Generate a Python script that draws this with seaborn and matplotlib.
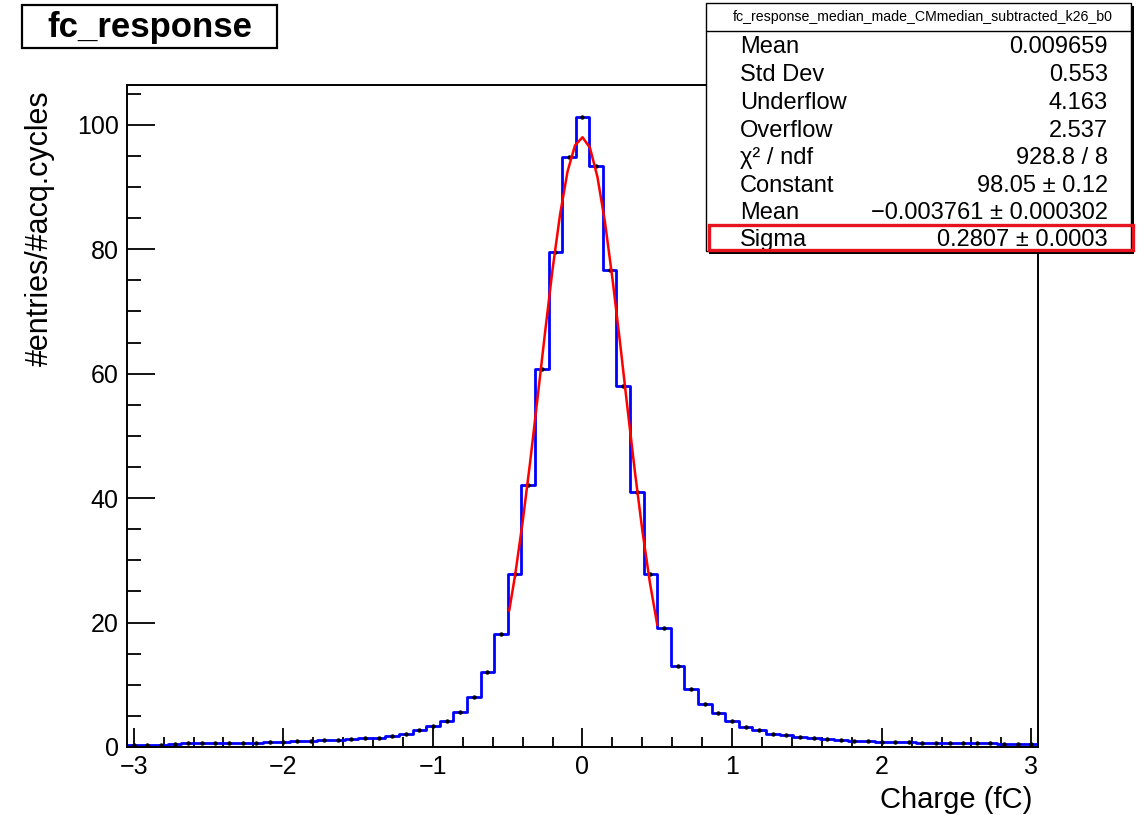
import numpy as np
import pandas as pd
import seaborn as sns
import matplotlib.pyplot as plt
from matplotlib.patches import Rectangle
from matplotlib.ticker import MultipleLocator

# --------------------------- DATA ---------------------------
# 67 bins of width 1/11 fC between -3.045 and 3.045
bin_edges = np.linspace(-3.045, 3.045, 68)
bin_centers = 0.5 * (bin_edges[:-1] + bin_edges[1:])

counts = [
    0.38, 0.38, 0.40, 0.45, 0.58, 0.60, 0.60, 0.70, 0.70, 0.72,
    0.74, 0.86, 0.95, 0.97, 1.07, 1.10, 1.23, 1.38, 1.52, 1.82,
    2.15, 2.70, 3.35, 4.20, 5.6, 8.0, 12.0, 18.1, 27.8, 42.1,
    60.7, 79.6, 94.8, 101.3, 93.4, 76.6, 58.1, 41.0, 27.8, 19.1,
    13.0, 9.3, 6.9, 5.4, 4.1, 3.25, 2.7, 2.15, 1.88, 1.6,
    1.39, 1.23, 1.07, 0.97, 0.95, 0.86, 0.80, 0.78, 0.70, 0.70,
    0.68, 0.60, 0.58, 0.58, 0.48, 0.46, 0.43,
]
assert len(counts) == len(bin_centers)

# gaussian fit curve
fit_x = [-0.49, -0.45, -0.40, -0.35, -0.30, -0.25, -0.20, -0.15, -0.10, -0.05, 0.0,
         0.05, 0.10, 0.15, 0.20, 0.25, 0.30, 0.35, 0.40, 0.45, 0.50]
fit_y = [21.9, 27.7, 36.2, 45.8, 56.2, 66.7, 76.8, 85.6, 92.5, 96.7, 98.0,
         96.3, 91.6, 84.4, 75.3, 65.2, 54.6, 44.3, 34.8, 26.5, 19.6]

stat_names = ["Mean", "Std Dev", "Underflow", "Overflow", "χ² / ndf",
              "Constant", "Mean", "Sigma"]
stat_values = ["0.009659", "0.553", "4.163", "2.537", "928.8 / 8",
               "98.05 ± 0.12", "−0.003761 ± 0.000302", "0.2807 ± 0.0003"]
hist_name = "fc_response_median_made_CMmedian_subtracted_k26_b0"

df = pd.DataFrame({"charge": bin_centers, "entries": counts})

# --------------------------- STYLE ---------------------------
sns.set_style("white")
plt.rcParams['font.family'] = ['Liberation Sans', 'DejaVu Sans']
plt.rcParams['text.color'] = 'black'
plt.rcParams['xtick.color'] = 'black'
plt.rcParams['ytick.color'] = 'black'

W, H = 1139, 815
fig = plt.figure(figsize=(W / 100, H / 100), dpi=100)
ax = fig.add_axes([127 / W, 1 - 747 / H, (1038 - 127) / W, (747 - 85) / H])


def fx(px):
    return px / W


def fy(py):
    return 1 - py / H


# --------------------------- PLOT ---------------------------
sns.histplot(data=df, x="charge", weights="entries", bins=list(bin_edges),
             element="step", fill=False, color="#0000ff", linewidth=2.0, ax=ax)
sns.scatterplot(data=df, x="charge", y="entries", color="black", s=10,
                linewidth=0, zorder=4, ax=ax)
sns.lineplot(x=fit_x, y=fit_y, color="#ff0000", linewidth=1.8, zorder=5, ax=ax)

ax.set_xlim(-3.045, 3.045)
ax.set_ylim(0, 106.4)
ax.xaxis.set_major_locator(MultipleLocator(1))
ax.xaxis.set_minor_locator(MultipleLocator(0.2))
ax.yaxis.set_major_locator(MultipleLocator(20))
ax.yaxis.set_minor_locator(MultipleLocator(5))
ax.tick_params(which="both", bottom=True, left=True, top=False, right=False,
               colors="black")
ax.tick_params(axis="x", which="major", direction="in", length=14, width=1.3,
               labelsize=18, pad=6)
ax.tick_params(axis="x", which="minor", direction="in", length=7, width=1.3)
ax.tick_params(axis="y", which="major", direction="in", length=20, width=1.3,
               labelsize=18, pad=6)
ax.tick_params(axis="y", which="minor", direction="in", length=10, width=1.3)
for sp in ax.spines.values():
    sp.set_linewidth(1.4)
    sp.set_color("black")
ax.set_xlabel("")
ax.set_ylabel("")

fig.text(fx(1032), fy(800), "Charge (fC)", ha="right", va="center", fontsize=21)
fig.text(fx(40), fy(90), "#entries/#acq.cycles", ha="center", va="top",
         rotation=90, fontsize=22)

# title box
fig.patches.append(Rectangle((fx(22), fy(48)), fx(277) - fx(22), fy(5) - fy(48),
                             transform=fig.transFigure, facecolor="white",
                             edgecolor="black", linewidth=1.6, zorder=10))
fig.text(fx(150), fy(27), "fc_response", ha="center", va="center",
         fontsize=25, fontweight="bold", zorder=11)

# stats box with shadow
bx0, bx1, by0, by1 = 706, 1131, 3, 251
fig.patches.append(Rectangle((fx(bx0 + 3), fy(by1 + 3)), fx(bx1) - fx(bx0),
                             fy(by0) - fy(by1), transform=fig.transFigure,
                             facecolor="black", edgecolor="none", zorder=10))
fig.patches.append(Rectangle((fx(bx0), fy(by1)), fx(bx1) - fx(bx0),
                             fy(by0) - fy(by1), transform=fig.transFigure,
                             facecolor="white", edgecolor="black",
                             linewidth=1.0, zorder=11))
fig.add_artist(plt.Line2D([fx(bx0), fx(bx1)], [fy(31), fy(31)],
                          transform=fig.transFigure, color="black",
                          linewidth=1.0, zorder=12))
fig.text(fx(923), fy(17), hist_name, ha="center", va="center", fontsize=10.2,
         zorder=12)
row_y = [47, 75, 103, 131, 158, 186, 213, 240]
for name, val, ry in zip(stat_names, stat_values, row_y):
    fig.text(fx(740), fy(ry), name, ha="left", va="center", fontsize=17, zorder=12)
    fig.text(fx(1108), fy(ry), val, ha="right", va="center", fontsize=17, zorder=12)

# red highlight around Sigma
fig.patches.append(Rectangle((fx(709), fy(250)), fx(1133) - fx(709),
                             fy(225) - fy(250), transform=fig.transFigure,
                             facecolor="none", edgecolor="#e5141e",
                             linewidth=2.4, zorder=13))

fig.savefig("out.png", dpi=100, facecolor="white")
